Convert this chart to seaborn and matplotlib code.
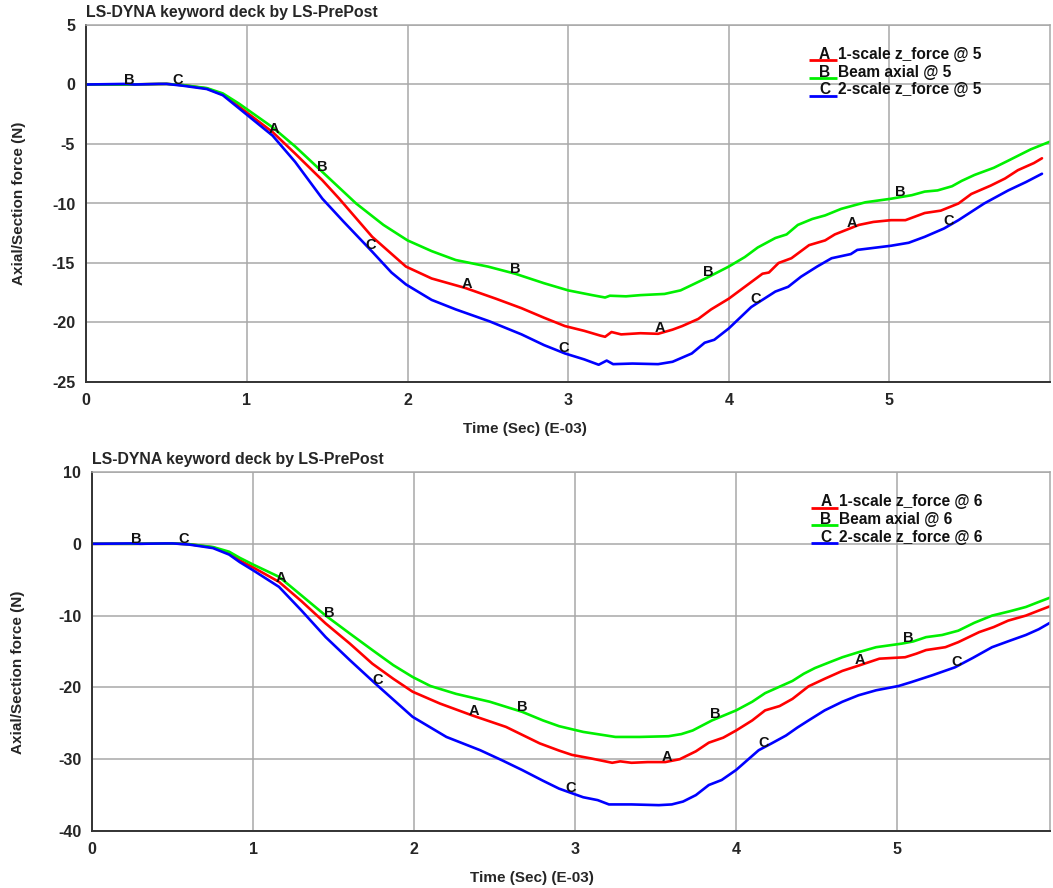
import numpy as np
import pandas as pd
import matplotlib
matplotlib.use("Agg")
import matplotlib.pyplot as plt
import seaborn as sns

# ---------------- data (time in E-03 s, force in N) ----------------
# Top panel (@ 5)
top_a_t = [0, 0.25, 0.5, 0.6, 0.75, 0.85, 0.955, 1.16, 1.3, 1.47, 1.575, 1.78, 1.99, 2.15, 2.36, 2.55, 2.71, 2.85, 2.98,
           3.1, 3.2, 3.23, 3.27, 3.33, 3.45, 3.56, 3.65, 3.71, 3.81, 3.89, 4.0, 4.1, 4.21, 4.25, 4.31, 4.39, 4.5, 4.6,
           4.66, 4.81, 4.9, 5.01, 5.1, 5.14, 5.22, 5.32, 5.43, 5.51, 5.63, 5.72, 5.8, 5.9, 5.95]
top_a_f = [0, 0, 0.05, -0.05, -0.33, -0.85, -1.9, -4.0, -5.8, -8.05, -9.6, -12.8, -15.3, -16.3, -17.1, -18.0, -18.8,
           -19.6, -20.3, -20.7, -21.1, -21.2, -20.8, -21.0, -20.9, -20.95, -20.6, -20.3, -19.7, -18.9, -18.0, -17.0,
           -15.9, -15.8, -15.0, -14.6, -13.5, -13.1, -12.6, -11.8, -11.55, -11.4, -11.4, -11.2, -10.8, -10.6, -10.0,
           -9.2, -8.5, -7.9, -7.2, -6.6, -6.2]
top_b_t = [0, 0.25, 0.5, 0.6, 0.75, 0.85, 0.95, 1.16, 1.3, 1.47, 1.68, 1.85, 2.0, 2.15, 2.3, 2.5, 2.67, 2.85, 3.0,
           3.15, 3.23, 3.26, 3.36, 3.45, 3.6, 3.7, 3.77, 3.87, 4.0, 4.1, 4.18, 4.29, 4.36, 4.43, 4.52, 4.6, 4.7, 4.85,
           5.01, 5.14, 5.22, 5.3, 5.39, 5.45, 5.53, 5.65, 5.74, 5.88, 6.0]
top_b_f = [0, 0, 0.05, -0.05, -0.3, -0.75, -1.6, -3.6, -5.2, -7.35, -10.0, -11.8, -13.1, -14.0, -14.75, -15.3, -15.9,
           -16.7, -17.3, -17.7, -17.9, -17.75, -17.8, -17.7, -17.6, -17.3, -16.85, -16.2, -15.3, -14.5, -13.7, -12.9,
           -12.6, -11.8, -11.3, -11.0, -10.45, -9.9, -9.6, -9.3, -9.0, -8.9, -8.55, -8.1, -7.6, -7.0, -6.4, -5.45, -4.8]
top_c_t = [0, 0.25, 0.3, 0.45, 0.5, 0.6, 0.75, 0.85, 0.955, 1.16, 1.3, 1.47, 1.6, 1.78, 1.9, 1.99, 2.15, 2.3, 2.51,
           2.71, 2.85, 2.98, 3.1, 3.19, 3.24, 3.28, 3.4, 3.56, 3.65, 3.77, 3.85, 3.91, 4.0, 4.14, 4.29, 4.37, 4.45,
           4.55, 4.64, 4.76, 4.8, 5.01, 5.12, 5.22, 5.34, 5.43, 5.59, 5.74, 5.85, 5.95]
top_c_f = [0, 0.05, 0, 0.05, 0.05, -0.1, -0.38, -0.9, -2.05, -4.3, -6.5, -9.6, -11.5, -14.05, -15.8, -16.8, -18.1,
           -18.9, -19.9, -21.0, -21.9, -22.6, -23.1, -23.55, -23.2, -23.5, -23.45, -23.5, -23.3, -22.6, -21.7, -21.45,
           -20.5, -18.7, -17.4, -17.0, -16.15, -15.3, -14.6, -14.25, -13.9, -13.55, -13.3, -12.8, -12.1, -11.4,
           -10.0, -8.9, -8.2, -7.5]

# Bottom panel (@ 6)
bot_a_t = [0, 0.25, 0.5, 0.6, 0.75, 0.85, 0.916, 1.0, 1.16, 1.3, 1.45, 1.6, 1.74, 1.87, 1.99, 2.16, 2.36, 2.57, 2.78,
           2.9, 2.98, 3.1, 3.23, 3.28, 3.35, 3.45, 3.56, 3.65, 3.75, 3.83, 3.92, 4.0, 4.1, 4.18, 4.27, 4.35, 4.45,
           4.55, 4.66, 4.77, 4.89, 5.05, 5.12, 5.18, 5.3, 5.38, 5.51, 5.6, 5.69, 5.8, 5.88, 5.95]
bot_a_f = [0, 0, 0.05, -0.05, -0.5, -1.3, -2.3, -3.3, -5.3, -8.0, -11.1, -13.9, -16.7, -18.8, -20.6, -22.25, -23.9,
           -25.5, -27.8, -28.8, -29.4, -29.9, -30.5, -30.3, -30.5, -30.4, -30.4, -30.0, -28.9, -27.7, -27.0, -26.0,
           -24.6, -23.2, -22.6, -21.6, -19.85, -18.8, -17.7, -16.9, -16.0, -15.8, -15.3, -14.8, -14.4, -13.7, -12.3,
           -11.6, -10.7, -10.0, -9.3, -8.7]
bot_b_t = [0, 0.25, 0.5, 0.6, 0.75, 0.85, 0.916, 1.0, 1.16, 1.3, 1.45, 1.6, 1.74, 1.87, 1.99, 2.1, 2.26, 2.47, 2.67,
           2.8, 2.9, 3.05, 3.25, 3.4, 3.58, 3.66, 3.73, 3.85, 4.0, 4.1, 4.18, 4.27, 4.35, 4.42, 4.49, 4.58, 4.66, 4.76,
           4.87, 5.03, 5.1, 5.18, 5.28, 5.38, 5.48, 5.59, 5.7, 5.8, 5.88, 5.95]
bot_b_f = [0, 0, 0.05, -0.05, -0.45, -1.1, -1.95, -2.9, -4.6, -7.2, -10.0, -12.5, -14.8, -16.9, -18.55, -19.8, -20.9,
           -22.0, -23.4, -24.6, -25.4, -26.2, -26.9, -26.9, -26.8, -26.5, -26.0, -24.6, -23.2, -22.0, -20.8, -19.9,
           -19.1, -18.1, -17.3, -16.5, -15.8, -15.1, -14.4, -13.9, -13.6, -13.0, -12.7, -12.1, -11.0, -10.0, -9.4,
           -8.8, -8.1, -7.5]
bot_c_t = [0, 0.25, 0.3, 0.45, 0.5, 0.6, 0.75, 0.85, 0.916, 1.0, 1.16, 1.3, 1.45, 1.6, 1.76, 1.88, 1.99, 2.2, 2.41,
           2.55, 2.67, 2.8, 2.9, 3.05, 3.14, 3.21, 3.35, 3.52, 3.6, 3.67, 3.75, 3.83, 3.91, 4.0, 4.14, 4.22, 4.31, 4.38,
           4.45, 4.55, 4.66, 4.76, 4.87, 5.01, 5.09, 5.22, 5.36, 5.47, 5.59, 5.7, 5.8, 5.88, 5.95]
bot_c_f = [0, 0.05, 0, 0.05, 0.05, -0.1, -0.6, -1.5, -2.55, -3.7, -6.0, -9.3, -13.0, -16.2, -19.5, -21.9, -24.1,
           -26.9, -28.75, -30.2, -31.5, -33.0, -34.1, -35.3, -35.7, -36.3, -36.3, -36.4, -36.3, -35.9, -35.0, -33.6,
           -32.9, -31.5, -28.75, -27.8, -26.7, -25.6, -24.6, -23.2, -22.0, -21.1, -20.4, -19.8, -19.25, -18.3, -17.2,
           -15.9, -14.4, -13.5, -12.7, -11.9, -11.0]

letters = ["A", "B", "C"]
top_names = ["1-scale z_force @ 5", "Beam axial @ 5", "2-scale z_force @ 5"]
bot_names = ["1-scale z_force @ 6", "Beam axial @ 6", "2-scale z_force @ 6"]
colors = ["#ff0000", "#00f000", "#0000ff"]
label_times = {"A": [1.17, 2.37, 3.57, 4.77],
               "B": [0.27, 1.47, 2.67, 3.87, 5.07],
               "C": [0.57, 1.77, 2.97, 4.17, 5.37]}

top_yticks = [5, 0, -5, -10, -15, -20, -25]
bot_yticks = [10, 0, -10, -20, -30, -40]
xticks = [0, 1, 2, 3, 4, 5]

# ---------------- style ----------------
sns.set_style("white")
plt.rcParams["font.family"] = ["Liberation Sans", "DejaVu Sans"]
plt.rcParams["font.weight"] = "bold"
plt.rcParams["axes.unicode_minus"] = False

fig = plt.figure(figsize=(10.53, 8.88), dpi=100)
W, H = 1053.0, 888.0

def make_axes(left, top, right, bottom):
    return fig.add_axes([left / W, 1 - bottom / H, (right - left) / W, (bottom - top) / H])

ax_top = make_axes(86.3, 25, 1050, 382)
ax_bot = make_axes(92.3, 472, 1050, 831)

grid_col = "#a8a8a8"

def draw_panel(ax, series, names, yticks, ylim, xlim, minor_y, xlab_pos, ylab_pos):
    frames = []
    for letter, name, (t, f) in zip(letters, names, series):
        frames.append(pd.DataFrame({"time": t, "force": f, "series": letter}))
    df = pd.concat(frames, ignore_index=True)
    sns.lineplot(data=df, x="time", y="force", hue="series", hue_order=letters,
                 palette=colors, estimator=None, sort=False, legend=False,
                 linewidth=1.9, ax=ax)
    # curve letter labels
    for letter, (t, f) in zip(letters, series):
        for lt in label_times[letter]:
            ly = float(np.interp(lt, t, f))
            ax.annotate(letter, (lt, ly), xytext=(0, 3.5), textcoords="offset points",
                        ha="center", va="center", fontsize=10.5, fontweight="bold",
                        color="#111111", zorder=5)
    ax.set_xlim(*xlim)
    ax.set_ylim(*ylim)
    ax.set_xticks(xticks)
    ax.set_yticks(yticks)
    ax.set_xticks(np.arange(0.5, xlim[1], 1.0), minor=True)
    ax.set_yticks(minor_y, minor=True)
    ax.grid(True, which="major", color=grid_col, linewidth=1.1)
    ax.tick_params(axis="y", which="major", direction="out", length=7, width=1.2,
                   labelsize=11.5, pad=1, color="#333333")
    ax.tick_params(axis="x", which="major", direction="inout", length=10, width=1.2,
                   labelsize=11.5, pad=3, color="#333333")
    ax.tick_params(which="minor", direction="in", length=8, width=1.0, color="#333333")
    for lab in ax.get_xticklabels() + ax.get_yticklabels():
        lab.set_fontweight("bold")
    for s in ["left", "bottom"]:
        ax.spines[s].set_color("#333333")
        ax.spines[s].set_linewidth(1.4)
    for s in ["top", "right"]:
        ax.spines[s].set_color(grid_col)
        ax.spines[s].set_linewidth(1.1)
    ax.set_xlabel("Time (Sec) (E-03)", fontsize=11, fontweight="bold")
    ax.set_ylabel("Axial/Section force (N)", fontsize=11, fontweight="bold")
    ax.xaxis.set_label_coords(*xlab_pos)
    ax.yaxis.set_label_coords(*ylab_pos)
    ax.text(0.0, 1.034, "LS-DYNA keyword deck by LS-PrePost", transform=ax.transAxes,
            ha="left", va="center", fontsize=11.4, fontweight="bold")
    # legend (letter underlined by the line sample)
    for i, (letter, name, col) in enumerate(zip(letters, names, colors)):
        yy = 0.918 - i * 0.05
        ax.text(0.766, yy, letter, transform=ax.transAxes, ha="center", va="center",
                fontsize=11.2, fontweight="bold", color="#111111", zorder=6)
        ax.text(0.780, yy, name, transform=ax.transAxes, ha="left", va="center",
                fontsize=11.2, fontweight="bold", color="#111111", zorder=6)
        ax.plot([0.750, 0.779], [yy - 0.017, yy - 0.017], transform=ax.transAxes,
                color=col, linewidth=2.0, solid_capstyle="butt", zorder=6)

draw_panel(ax_top,
           [(top_a_t, top_a_f), (top_b_t, top_b_f), (top_c_t, top_c_f)],
           top_names, top_yticks, (-25, 5), (0, 6.0), np.arange(-22.5, 5, 5),
           (0.455, -0.112), (-0.063, 0.5))
draw_panel(ax_bot,
           [(bot_a_t, bot_a_f), (bot_b_t, bot_b_f), (bot_c_t, bot_c_f)],
           bot_names, bot_yticks, (-40, 10), (0, 5.95), np.arange(-35, 10, 10),
           (0.459, -0.111), (-0.070, 0.443))

fig.savefig("out.png", dpi=100, facecolor="white")
